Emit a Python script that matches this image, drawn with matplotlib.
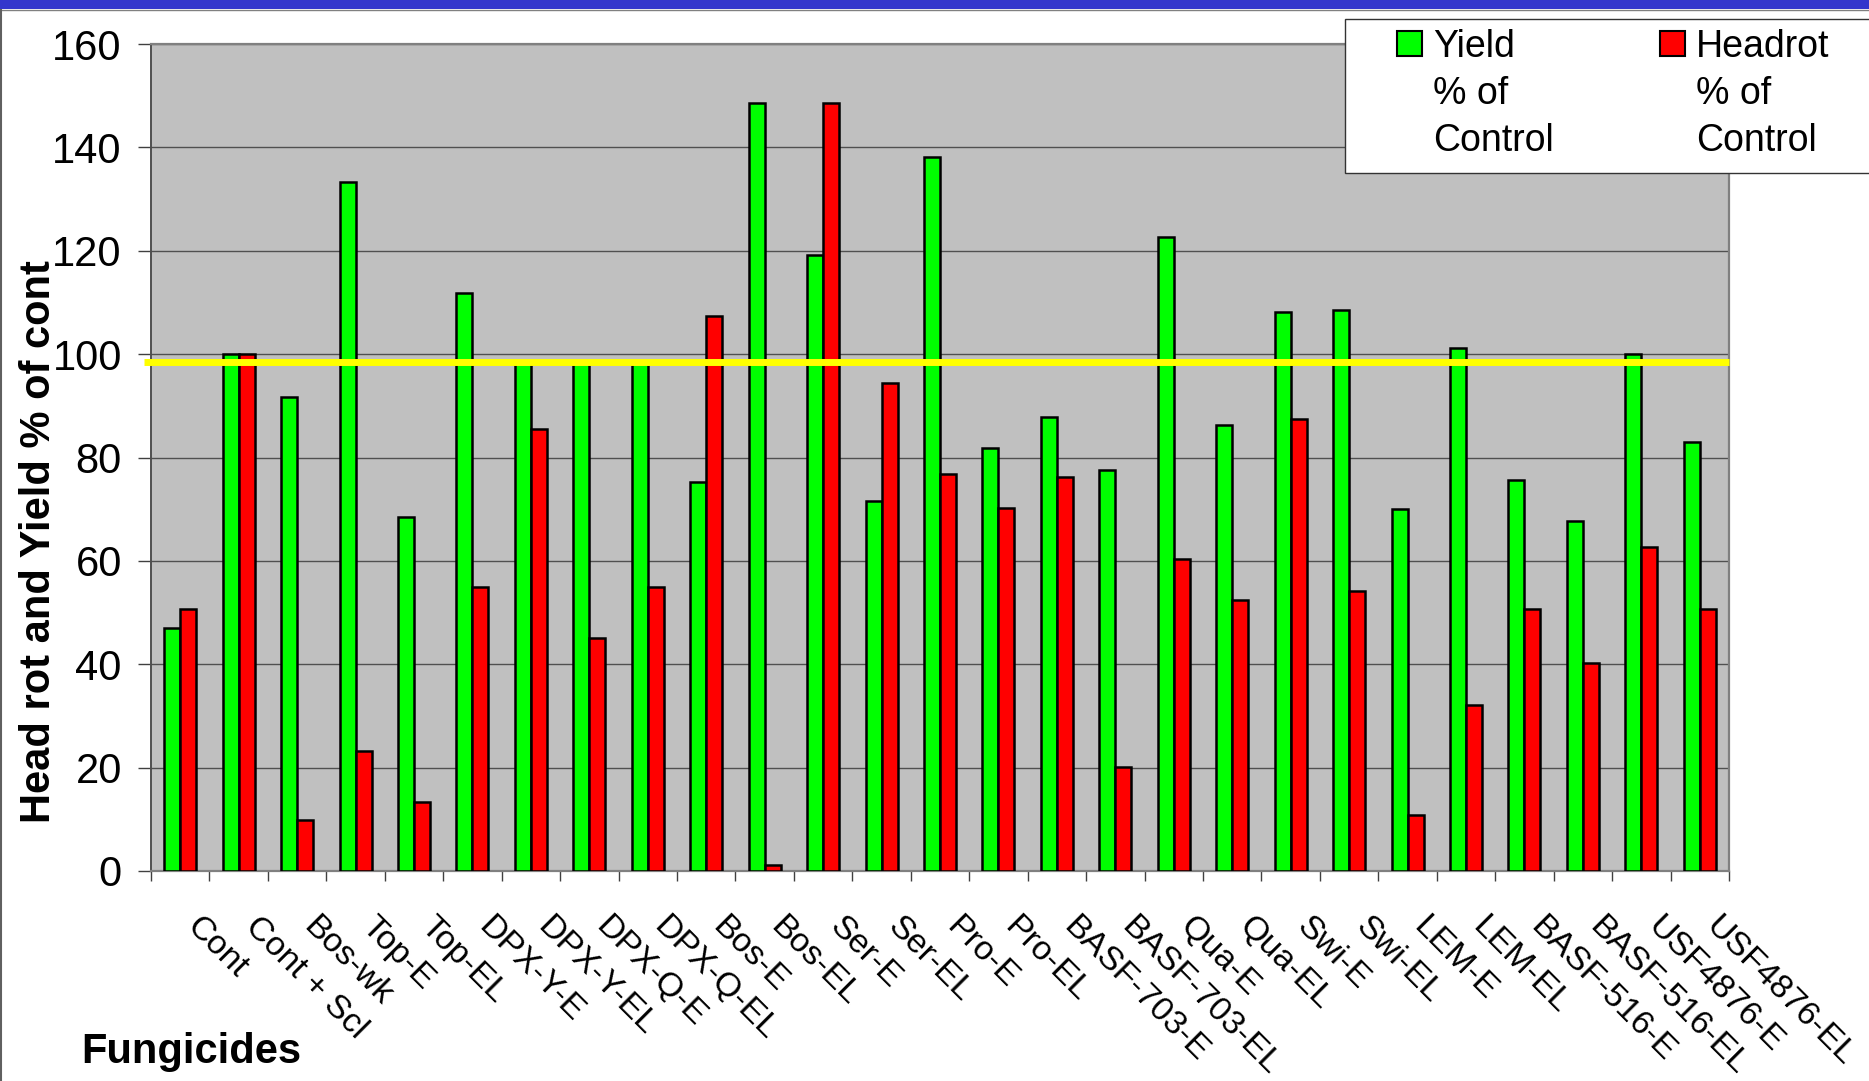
import numpy as np
import matplotlib
matplotlib.use("Agg")
import matplotlib.pyplot as plt
import matplotlib.patches as mpatches
from matplotlib.lines import Line2D
from matplotlib.legend_handler import HandlerPatch

plt.rcParams['font.family'] = ['Liberation Sans', 'DejaVu Sans']

# data
fungicides = ['Cont', 'Cont + Scl', 'Bos-wk', 'Top-E', 'Top-EL', 'DPX-Y-E', 'DPX-Y-EL',
              'DPX-Q-E', 'DPX-Q-EL', 'Bos-E', 'Bos-EL', 'Ser-E', 'Ser-EL', 'Pro-E', 'Pro-EL',
              'BASF-703-E', 'BASF-703-EL', 'Qua-E', 'Qua-EL', 'Swi-E', 'Swi-EL', 'LEM-E',
              'LEM-EL', 'BASF-516-E', 'BASF-516-EL', 'USF4876-E', 'USF4876-EL']
yield_pct = [47.0, 100, 91.8, 133.3, 68.5, 111.8, 98.5, 98.5, 98.5, 75.2, 148.5, 119.2, 71.5,
             138.1, 81.8, 87.8, 77.5, 122.7, 86.2, 108.1, 108.6, 70.1, 101.2, 75.6, 67.8,
             100, 83.0]
headrot_pct = [50.7, 100, 9.8, 23.2, 13.4, 55.0, 85.5, 45.1, 55.0, 107.4, 1.2, 148.5, 94.5,
               76.8, 70.3, 76.3, 20.1, 60.3, 52.4, 87.4, 54.2, 10.8, 32.2, 50.6, 40.2,
               62.7, 50.6]
ref_level = 98.5
legend_labels = ['Yield\n% of\nControl', 'Headrot\n% of\nControl']
yticks = [0, 20, 40, 60, 80, 100, 120, 140, 160]

W, H = 1869, 1081
fig = plt.figure(figsize=(W / 100, H / 100), dpi=100)
ax = fig.add_axes([151 / W, 1 - 871 / H, (1729 - 151) / W, (871 - 44) / H])
ax.set_facecolor('#c0c0c0')

x = np.arange(len(fungicides))
bw = 0.274
ax.bar(x - bw / 2, yield_pct, bw, color='#00ff00', edgecolor='black', linewidth=1.8, zorder=3)
ax.bar(x + bw / 2, headrot_pct, bw, color='#ff0000', edgecolor='black', linewidth=1.8, zorder=3)

# yellow reference line (slightly overhangs the left axis like the original)
ax.plot([-0.62, len(fungicides) - 0.5], [ref_level, ref_level], color='#ffff00',
        linewidth=5, zorder=5, clip_on=False, solid_capstyle='butt')

ax.set_xlim(-0.5, len(fungicides) - 0.5)
ax.set_ylim(0, 160)
ax.set_yticks(yticks)
ax.yaxis.grid(True, color='#505050', linewidth=1.0, zorder=1)
ax.set_axisbelow(True)
ax.tick_params(axis='y', labelsize=30, length=9.5, width=1.0, color='#404040', pad=11.5)

ax.set_xticks(x)
ax.set_xticks(np.arange(len(fungicides) + 1) - 0.5, minor=True)
ax.set_xticklabels(fungicides, rotation=-45, ha='left', va='top', rotation_mode='default')
ax.tick_params(axis='x', which='major', length=0, labelsize=24.5, pad=29)
ax.tick_params(axis='x', which='minor', length=7, width=1.0, color='#404040')

for side in ['top', 'right', 'bottom']:
    ax.spines[side].set_color('#808080')
    ax.spines[side].set_linewidth(1.6)
ax.spines['left'].set_color('#505050')
ax.spines['left'].set_linewidth(1.4)

ax.set_ylabel('Head rot and Yield % of cont', fontsize=30, fontweight='bold')
ax.yaxis.set_label_coords((50 - 151) / 1578, (871 - 542) / 827)
ax.yaxis.label.set_va('baseline')
ax.set_xlabel('Fungicides', fontsize=30, fontweight='bold')
ax.xaxis.set_label_coords((81 - 151) / 1578, -(1063 - 871) / 827)
ax.xaxis.label.set_ha('left')
ax.xaxis.label.set_va('baseline')

# legend: square sits beside the first line of a three line label
LEG_SHIFT = 37


def top_square(legend, orig_handle, xdescent, ydescent, width, height, fontsize):
    return mpatches.Rectangle((-xdescent, -ydescent + LEG_SHIFT), width, width)


handles = [mpatches.Patch(facecolor='#00ff00', edgecolor='black', linewidth=1.5),
           mpatches.Patch(facecolor='#ff0000', edgecolor='black', linewidth=1.5)]
fig.patches.append(mpatches.Rectangle((1345 / W, 1 - 173 / H), 0.3, (173 - 19) / H,
                                      transform=fig.transFigure, facecolor='white',
                                      edgecolor='#333333', linewidth=1.0, zorder=5))
leg = fig.legend(handles, legend_labels, loc='upper left',
                 bbox_to_anchor=(1397 / W, 1 - 29 / H), ncol=2, frameon=False,
                 fontsize=27, borderpad=0, borderaxespad=0, handlelength=0.67,
                 handleheight=0.67, handletextpad=0.3, columnspacing=2.82,
                 handler_map={mpatches.Patch: HandlerPatch(patch_func=top_square)})
leg.set_zorder(6)
for t in leg.get_texts():
    t.set_linespacing(1.4)

# slide frame: blue band on top, thin grey rules
fig.patches.append(mpatches.Rectangle((0, 1 - 9 / H), 1, 9 / H, transform=fig.transFigure,
                                      facecolor='#3336cc', edgecolor='none', zorder=10))
fig.lines.append(Line2D([0, 1], [1 - 9.8 / H, 1 - 9.8 / H], transform=fig.transFigure,
                        color='#808080', linewidth=1.0, zorder=10))
fig.lines.append(Line2D([0.6 / W, 0.6 / W], [0, 1 - 9 / H], transform=fig.transFigure,
                        color='#606060', linewidth=1.5, zorder=10))

fig.savefig('out.png', dpi=100, facecolor='white')
